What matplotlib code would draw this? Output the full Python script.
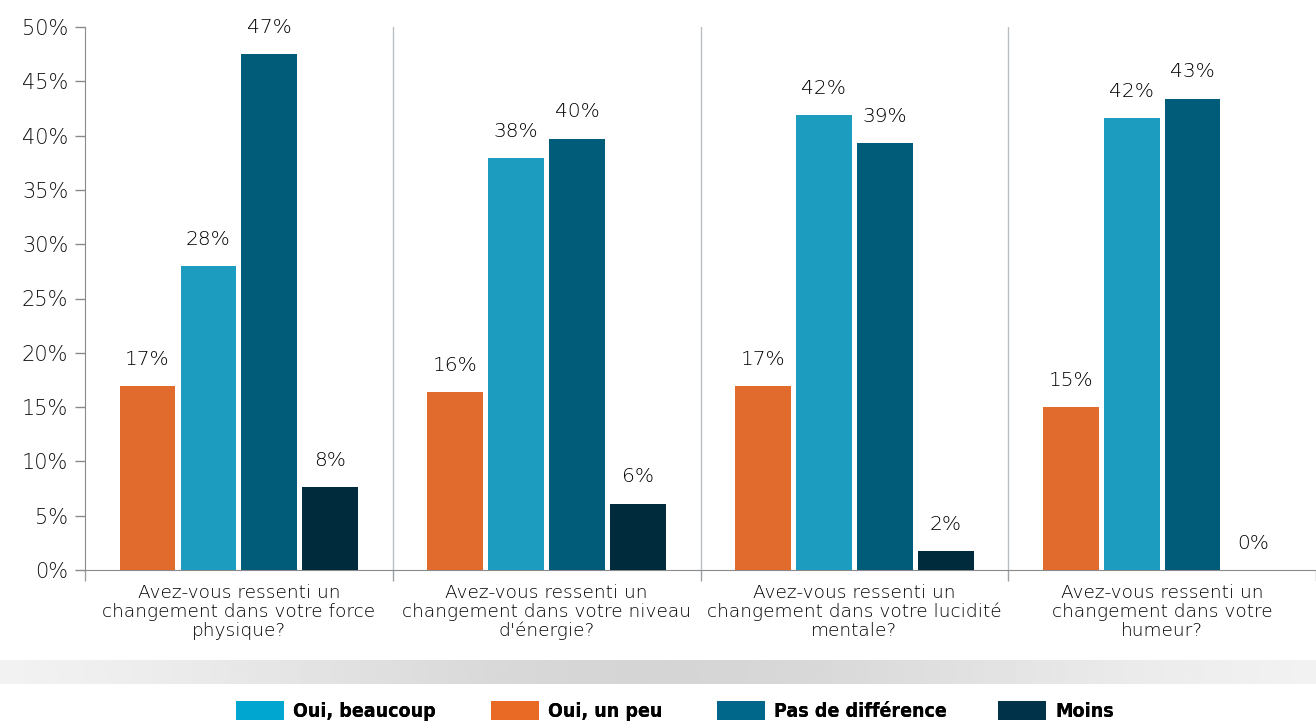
import numpy as np
import matplotlib
matplotlib.use("Agg")
import matplotlib.pyplot as plt
from matplotlib.patches import Patch

# data
questions = [
    "Avez-vous ressenti un\nchangement dans votre force\nphysique?",
    "Avez-vous ressenti un\nchangement dans votre niveau\nd'énergie?",
    "Avez-vous ressenti un\nchangement dans votre lucidité\nmentale?",
    "Avez-vous ressenti un\nchangement dans votre\nhumeur?",
]
oui_un_peu = [16.9, 16.4, 16.9, 15.0]
oui_beaucoup = [28.0, 37.9, 41.9, 41.6]
pas_de_diff = [47.5, 39.7, 39.3, 43.4]
moins = [7.6, 6.1, 1.75, 0.0]
value_labels = [
    ["17%", "16%", "17%", "15%"],
    ["28%", "38%", "42%", "42%"],
    ["47%", "40%", "39%", "43%"],
    ["8%", "6%", "2%", "0%"],
]
yticks = [0, 5, 10, 15, 20, 25, 30, 35, 40, 45, 50]

bar_colors = ["#E06B2C", "#1C9DBF", "#005C78", "#002B3D"]
legend_names = ["Oui, beaucoup", "Oui, un peu", "Pas de différence", "Moins"]
legend_colors = ["#00A5D0", "#E86A25", "#00668A", "#003349"]

plt.rcParams["font.family"] = ["DejaVu Sans"]
plt.rcParams["font.weight"] = "light"

fig = plt.figure(figsize=(13.16, 7.24), dpi=100)
ax = fig.add_axes([85 / 1316, 1 - 570 / 724, 1 - 85 / 1316, 543 / 724])

x = np.arange(len(questions))
offsets = [-0.297, -0.099, 0.099, 0.297]
width = 0.181
series = [oui_un_peu, oui_beaucoup, pas_de_diff, moins]
for i, vals in enumerate(series):
    bars = ax.bar(x + offsets[i], vals, width=width, color=bar_colors[i], zorder=3)
    for b, lab in zip(bars, value_labels[i]):
        ax.annotate(lab, (b.get_x() + b.get_width() / 2, b.get_height()),
                    xytext=(0, 12.5), textcoords="offset points",
                    ha="center", va="bottom", fontsize=14.5, color="#000000")

ax.set_xlim(-0.5, (1316 - 85) / 310 - 0.5)
ax.set_ylim(0, 50)
ax.set_yticks(yticks)
ax.set_yticklabels([f"{t}%" for t in yticks], fontsize=15, color="#111111")
ax.set_xticks(x)
ax.set_xticklabels(questions, fontsize=13.3, color="#000000", linespacing=1.06)
ax.set_xticks([-0.5, 0.5, 1.5, 2.5, 3.5], minor=True)
ax.tick_params(axis="x", which="major", length=0, pad=10)
ax.tick_params(axis="x", which="minor", length=8, color="#9aa0a4", width=1)
ax.tick_params(axis="y", length=7, color="#8a8a8a", width=1, pad=5)

for sep in [0.5, 1.5, 2.5]:
    ax.axvline(sep, color="#b8bec2", lw=1, zorder=1)

for s in ["top", "right"]:
    ax.spines[s].set_visible(False)
ax.spines["left"].set_color("#8a8a8a")
ax.spines["bottom"].set_color("#8a8a8a")

# grey band above the legend
band = fig.add_axes([0, 1 - 684 / 724, 1, 24 / 724])
g = np.linspace(-1, 1, 400)
shade = 0.965 - 0.13 * np.exp(-(g / 0.7) ** 2)
img = np.tile(shade, (10, 1))
band.imshow(img, cmap="gray", vmin=0, vmax=1, aspect="auto")
band.axis("off")

# legend entries placed one by one, as in the reference
legend_x = [236, 491, 717, 998]
for name, col, lx in zip(legend_names, legend_colors, legend_x):
    leg = fig.legend([Patch(facecolor=col, edgecolor="none")], [name],
                     loc="center left", bbox_to_anchor=(lx / 1316, 1 - 711 / 724),
                     frameon=False, borderpad=0, borderaxespad=0,
                     handlelength=2.45, handleheight=1.15, handletextpad=0.5,
                     prop={"family": "DejaVu Sans", "weight": "bold",
                           "stretch": "condensed", "size": 14})
    fig.add_artist(leg)

fig.savefig("out.png", dpi=100)
